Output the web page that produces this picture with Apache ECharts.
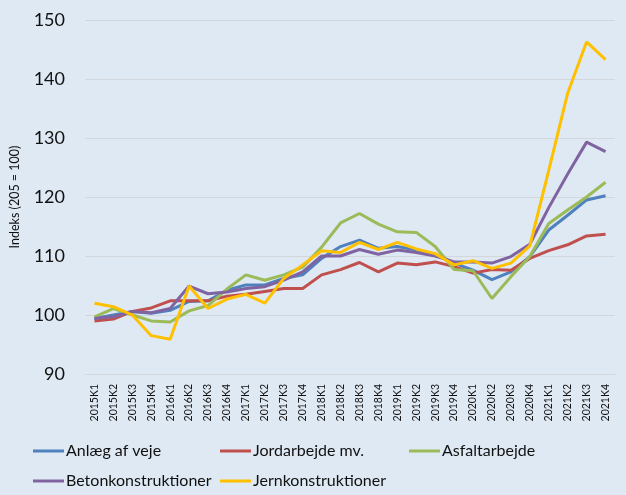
<!DOCTYPE html>
<html>
<head>
<meta charset="utf-8">
<script src="https://cdn.jsdelivr.net/npm/echarts@6/dist/echarts.min.js"></script>
<style>
  html, body { margin: 0; padding: 0; background: #dfe9f4; }
  #chart { width: 626px; height: 495px; }
</style>
</head>
<body>
<div id="chart"></div>
<script>
// kvartaler
const quarters = [
  "2015K1", "2015K2", "2015K3", "2015K4", "2016K1", "2016K2", "2016K3", "2016K4",
  "2017K1", "2017K2", "2017K3", "2017K4", "2018K1", "2018K2", "2018K3", "2018K4",
  "2019K1", "2019K2", "2019K3", "2019K4", "2020K1", "2020K2", "2020K3", "2020K4",
  "2021K1", "2021K2", "2021K3", "2021K4"
];

const anlaeg = [99.4, 100.0, 100.6, 100.3, 100.8, 102.3, 102.4, 104.2, 105.1, 105.1, 106.2, 106.8, 109.6, 111.6,
  112.7, 111.3, 111.6, 111.0, 110.3, 108.8, 107.6, 106.0, 107.3, 109.9, 114.4, 116.9, 119.5, 120.2];
const jordarbejde = [99.0, 99.3, 100.6, 101.2, 102.4, 102.4, 102.4, 103.2, 103.5, 104.0, 104.5, 104.5, 106.8, 107.7,
  108.9, 107.3, 108.8, 108.5, 109.0, 108.2, 107.1, 107.7, 107.6, 109.6, 110.9, 111.9, 113.4, 113.7];
const asfalt = [99.7, 101.1, 100.0, 99.0, 98.8, 100.7, 101.6, 104.4, 106.8, 105.9, 106.8, 108.1, 111.5, 115.6,
  117.2, 115.4, 114.1, 114.0, 111.6, 107.7, 107.5, 102.8, 106.5, 109.9, 115.5, 117.8, 120.0, 122.5];
const beton = [99.4, 99.7, 100.6, 100.4, 101.1, 104.9, 103.6, 103.9, 104.5, 104.8, 105.9, 107.3, 110.0, 110.0,
  111.1, 110.3, 111.0, 110.6, 110.0, 109.0, 109.0, 108.8, 109.9, 112.0, 118.2, 123.9, 129.3, 127.7];
const jern = [102.0, 101.4, 100.0, 96.5, 95.9, 104.9, 101.1, 102.7, 103.5, 102.0, 106.2, 108.5, 110.9, 110.6,
  112.3, 111.1, 112.3, 111.2, 110.4, 108.5, 109.2, 107.9, 108.8, 111.7, 124.5, 137.6, 146.3, 143.3];

const seriesList = [
  { name: "Anlæg af veje", data: anlaeg, color: "#4f81bd", left: 33, top: 443 },
  { name: "Jordarbejde mv.", data: jordarbejde, color: "#c0504d", left: 220, top: 443 },
  { name: "Asfaltarbejde", data: asfalt, color: "#9bbb59", left: 409, top: 443 },
  { name: "Betonkonstruktioner", data: beton, color: "#8064a2", left: 33, top: 473 },
  { name: "Jernkonstruktioner", data: jern, color: "#ffc000", left: 220, top: 473 }
];

const font = "Lato, 'Open Sans', sans-serif";

const myChart = echarts.init(document.getElementById("chart"));
myChart.setOption({
  backgroundColor: "#dfe9f4",
  animation: false,
  textStyle: { fontFamily: font },
  grid: { left: 83, right: 11, top: 20, bottom: 121 },
  // en legend pr. serie, så de står i kolonner
  legend: seriesList.map(s => ({
    data: [s.name],
    left: s.left,
    top: s.top,
    padding: 0,
    icon: "rect",
    itemWidth: 31,
    itemHeight: 3,
    textStyle: { fontSize: 16, color: "#111", fontFamily: font, padding: [0, 0, 0, -3] }
  })),
  xAxis: {
    type: "category",
    data: quarters,
    boundaryGap: true,
    axisLine: { lineStyle: { color: "#d3d6da", width: 1 } },
    axisTick: { show: false },
    axisLabel: { rotate: 90, fontSize: 10.5, color: "#111", margin: 10, interval: 0 }
  },
  yAxis: {
    type: "value",
    min: 90,
    max: 150,
    interval: 10,
    name: "Indeks (205 = 100)",
    nameLocation: "middle",
    nameRotate: 90,
    nameGap: 64,
    nameTextStyle: { fontSize: 12.5, color: "#111" },
    axisLine: { show: false },
    axisTick: { show: false },
    axisLabel: { fontSize: 18, color: "#111", margin: 20 },
    splitLine: { lineStyle: { color: "#d3d6da", width: 1 } }
  },
  series: seriesList.map(s => ({
    name: s.name,
    type: "line",
    data: s.data,
    showSymbol: false,
    symbol: "none",
    color: s.color,
    lineStyle: { width: 3, color: s.color }
  }))
});
</script>
</body>
</html>
